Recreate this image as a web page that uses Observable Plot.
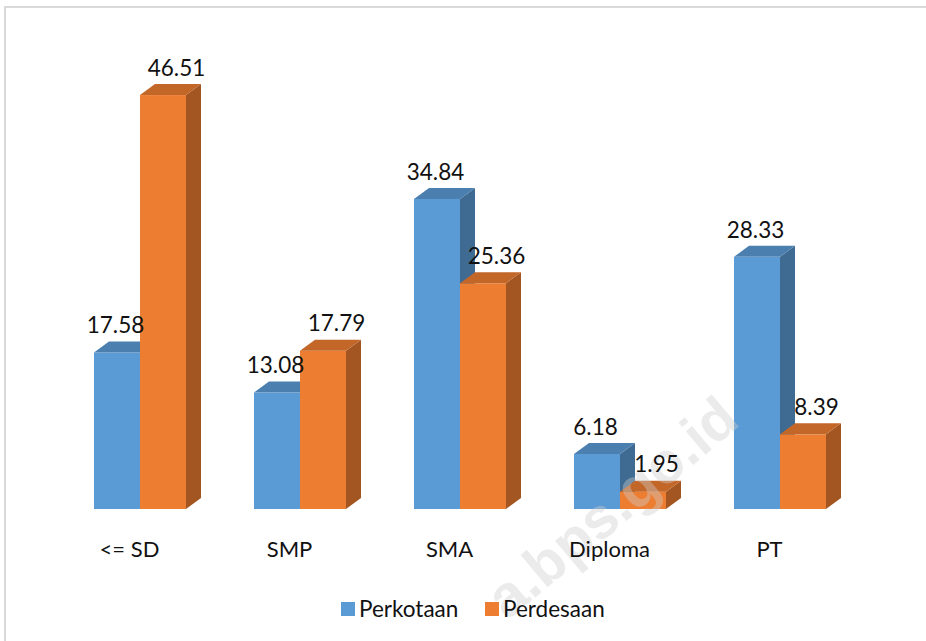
<!DOCTYPE html>
<html>
<head>
<meta charset="utf-8">
<script src="https://cdn.jsdelivr.net/npm/d3@7"></script>
<script src="https://cdn.jsdelivr.net/npm/@observablehq/plot@0.6"></script>
<style>
  html, body { margin: 0; padding: 0; background: #fff; overflow: hidden; }
  #wrap { position: relative; width: 926px; height: 641px; background: #fff; font-family: Lato, "Noto Sans", sans-serif; }
  #frame { position: absolute; left: 4px; top: 6px; right: 0; bottom: 0; border-top: 2px solid #d9d9d9; border-left: 2px solid #d9d9d9; }
  #chart { position: absolute; left: 0; top: 0; }
  #legend { position: absolute; left: 0; top: 0; width: 926px; height: 641px; pointer-events: none; }
  .item { position: absolute; top: 595px; display: flex; align-items: center; font-size: 22.5px; color: #111; }
  .sw { width: 14px; height: 14px; margin-right: 4px; }
</style>
</head>
<body>
<div id="wrap">
  <div id="frame"></div>
  <div id="chart"></div>
  <div id="legend"></div>
</div>
<script>
const categories = ["<= SD", "SMP", "SMA", "Diploma", "PT"];
const seriesNames = ["Perkotaan", "Perdesaan"];
const perkotaan = [17.58, 13.08, 34.84, 6.18, 28.33];
const perdesaan = [46.51, 17.79, 25.36, 1.95, 8.39];
const seriesColors = ["#5b9bd5", "#ed7d31"];
const watermarkText = "a.bps.go.id";

const data = categories.flatMap((c, i) => [
  {category: c, series: seriesNames[0], value: perkotaan[i]},
  {category: c, series: seriesNames[1], value: perdesaan[i]}
]);

const DX = 15, DY = 11;
const NS = "http://www.w3.org/2000/svg";

function render3d(index, scales, values, dimensions, context, next) {
  const g = next(index, scales, values, dimensions, context);
  const rects = Array.from(g.querySelectorAll("rect"));
  for (const r of rects) {
    const x = +r.getAttribute("x"), y = +r.getAttribute("y");
    const w = +r.getAttribute("width"), h = +r.getAttribute("height");
    const c = d3.color(r.getAttribute("fill"));
    const side = document.createElementNS(NS, "path");
    side.setAttribute("d", `M${x + w},${y}L${x + w + DX},${y - DY}L${x + w + DX},${y + h - DY}L${x + w},${y + h}Z`);
    side.setAttribute("fill", c.darker(1.05).formatHex());
    const top = document.createElementNS(NS, "path");
    top.setAttribute("d", `M${x},${y}L${x + DX},${y - DY}L${x + w + DX},${y - DY}L${x + w},${y}Z`);
    top.setAttribute("fill", c.darker(0.55).formatHex());
    r.after(side, top);
  }
  return g;
}

const chart = Plot.plot({
  width: 926,
  height: 641,
  marginLeft: 26,
  marginRight: 32,
  marginTop: 64,
  marginBottom: 132,
  style: {background: "transparent", fontFamily: "Lato, 'Noto Sans', sans-serif", overflow: "visible"},
  fx: {domain: categories, paddingInner: 0.425, paddingOuter: 0.425, axis: null, label: null},
  x: {domain: seriesNames, padding: 0, axis: null},
  y: {domain: [0, 50], axis: null},
  color: {domain: seriesNames, range: seriesColors},
  marks: [
    Plot.barY(data, {fx: "category", x: "series", y: "value", fill: "series", render: render3d}),
    Plot.text(data.filter(d => d.series === seriesNames[0]), {
      fx: "category", x: "series", y: "value", text: d => d.value.toFixed(2),
      dy: -27, dx: -2, lineAnchor: "middle", fontSize: 22.5, fill: "#111"
    }),
    Plot.text(data.filter(d => d.series === seriesNames[1]), {
      fx: "category", x: "series", y: "value", text: d => d.value.toFixed(2),
      dy: -27, dx: 13, lineAnchor: "middle", fontSize: 22.5, fill: "#111"
    }),
    Plot.text(categories, {
      fx: d => d, text: d => d, frameAnchor: "bottom", dy: 40, dx: -11,
      lineAnchor: "middle", fontSize: 22, fill: "#111"
    })
  ]
});

// faint watermark drawn above the bars, below the labels
const wm = document.createElementNS(NS, "text");
wm.setAttribute("transform", "translate(742,424) rotate(-40)");
wm.setAttribute("text-anchor", "end");
wm.setAttribute("font-family", "'Liberation Sans', Arial, sans-serif");
wm.setAttribute("font-weight", "bold");
wm.setAttribute("font-size", "58");
wm.setAttribute("fill", "rgba(205,205,205,0.4)");
wm.textContent = watermarkText;
const gs = chart.querySelectorAll(":scope > g");
if (gs.length > 1) chart.insertBefore(wm, gs[1]); else chart.appendChild(wm);

document.getElementById("chart").appendChild(chart);

// legend
const legend = document.getElementById("legend");
const legendLeft = [341, 485];
seriesNames.forEach((s, i) => {
  const item = document.createElement("div");
  item.className = "item";
  item.style.left = legendLeft[i] + "px";
  const sw = document.createElement("div");
  sw.className = "sw";
  sw.style.background = seriesColors[i];
  const t = document.createElement("span");
  t.textContent = s;
  item.appendChild(sw);
  item.appendChild(t);
  legend.appendChild(item);
});
</script>
</body>
</html>
